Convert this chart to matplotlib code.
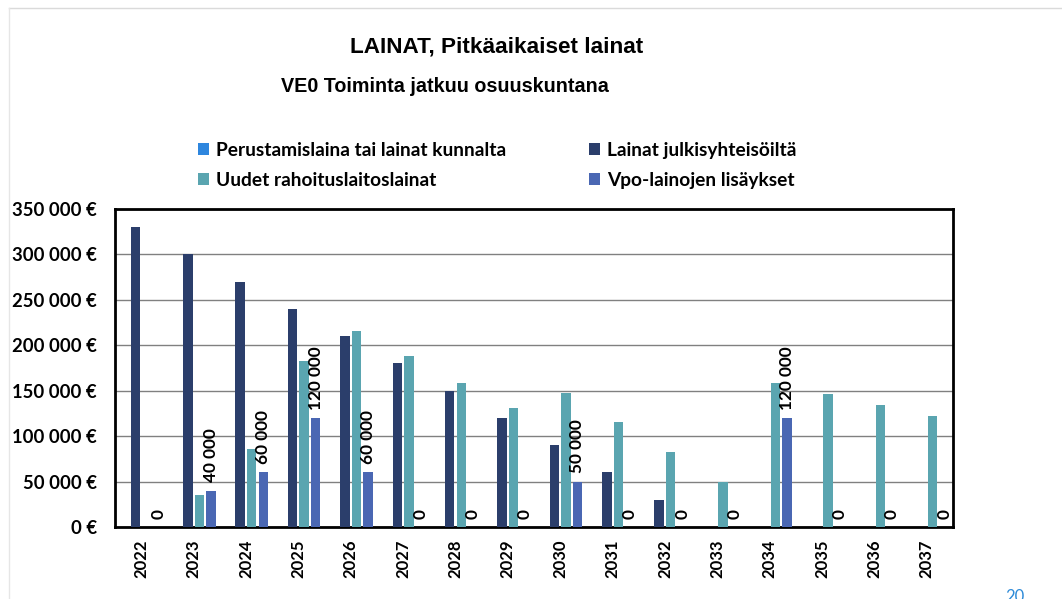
import matplotlib
matplotlib.use("Agg")
import matplotlib.pyplot as plt
import numpy as np
from matplotlib.lines import Line2D

years = [str(y) for y in range(2022, 2038)]
perustamislaina = [0] * 16
julkisyhteisot = [330000, 300000, 270000, 240000, 210000, 180000, 150000, 120000,
                  90000, 60000, 30000, 0, 0, 0, 0, 0]
rahoituslaitos = [0, 35000, 86000, 183000, 216000, 188000, 159000, 131000,
                  148000, 116000, 83000, 50000, 158000, 146000, 134000, 122000]
vpo_lisaykset = [0, 40000, 60000, 120000, 60000, 0, 0, 0,
                 50000, 0, 0, 0, 120000, 0, 0, 0]
yticks = [0, 50000, 100000, 150000, 200000, 250000, 300000, 350000]

c_per = "#2E86DE"
c_jul = "#2B3E6B"
c_rah = "#5AA5B0"
c_vpo = "#4A67B3"

fig = plt.figure(figsize=(10.62, 5.99), dpi=100)
ax = fig.add_axes([0.1083, 0.1202, 0.7891, 0.5309])

x = np.arange(len(years))
w = 0.18
b1 = ax.bar(x - 0.33, perustamislaina, w, color=c_per, label="Perustamislaina tai lainat kunnalta", zorder=3)
b2 = ax.bar(x - 0.11, julkisyhteisot, w, color=c_jul, label="Lainat julkisyhteisöiltä", zorder=3)
b3 = ax.bar(x + 0.11, rahoituslaitos, w, color=c_rah, label="Uudet rahoituslaitoslainat", zorder=3)
b4 = ax.bar(x + 0.33, vpo_lisaykset, w, color=c_vpo, label="Vpo-lainojen lisäykset", zorder=3)

labels = [f"{v:,}".replace(",", " ") for v in vpo_lisaykset]
ax.bar_label(b4, labels=labels, rotation=90, padding=6, fontsize=12.4,
             fontweight="bold", family="Lato", zorder=4)

ax.set_xlim(-0.5, len(years) - 0.5)
ax.set_ylim(0, 350000)
ax.set_xticks(x)
ax.set_xticklabels(years, rotation=90, fontsize=12, fontweight="bold", family="Lato")
ax.set_yticks(yticks)
ax.set_yticklabels([f"{v:,}".replace(",", " ") + " €" for v in yticks],
                   fontsize=13.3, fontweight="bold", family="Lato")
ax.tick_params(axis="y", length=0, pad=13)
ax.tick_params(axis="x", length=0, pad=9)
ax.grid(axis="y", color="#808080", linewidth=1, zorder=0)
for s in ax.spines.values():
    s.set_linewidth(2)
    s.set_color("black")

handles = [b1, b3, b2, b4]
fig.legend(handles=handles, labels=[h.get_label() for h in handles], ncol=2,
           loc="center", bbox_to_anchor=(0.468, 0.724), frameon=False,
           prop={"family": "Lato", "weight": "bold", "size": 13.8},
           handlelength=0.6, handleheight=0.6, handletextpad=0.35,
           columnspacing=4.3, labelspacing=0.7)

fig.text(0.468, 0.9215, "LAINAT, Pitkäaikaiset lainat", ha="center", va="center",
         fontsize=16.2, fontweight="bold", family="Liberation Sans")
fig.text(0.419, 0.856, "VE0 Toiminta jatkuu osuuskuntana", ha="center", va="center",
         fontsize=14.2, fontweight="bold", family="Liberation Sans")
fig.text(0.956, 0.004, "20", ha="center", va="center", fontsize=12, color="#2E8BD8",
         family="Lato")

fig.add_artist(Line2D([0.0085, 1.0], [0.986, 0.986], transform=fig.transFigure,
                      color="#DADADA", linewidth=1))
fig.add_artist(Line2D([0.0085, 0.0085], [0.0, 0.986], transform=fig.transFigure,
                      color="#E6E6E6", linewidth=1))

fig.savefig("out.png", dpi=100)
